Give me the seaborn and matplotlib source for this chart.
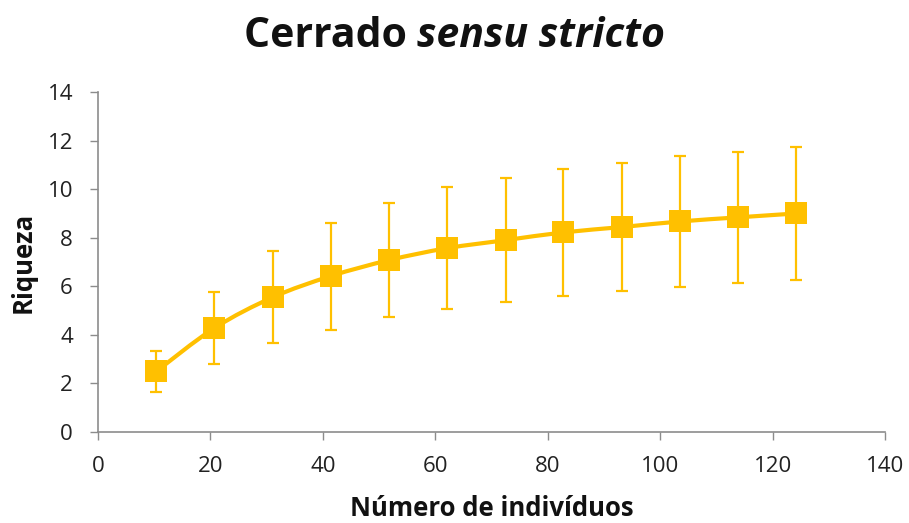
import numpy as np
import matplotlib
matplotlib.use("Agg")
import matplotlib.pyplot as plt
from matplotlib.path import Path
from matplotlib.patches import PathPatch
import seaborn as sns

# Rarefaction curve: expected richness by number of individuals
individuos = [10.4, 20.7, 31.1, 41.4, 51.8, 62.1, 72.5, 82.8, 93.2, 103.5, 113.9, 124.2]
riqueza = [2.5, 4.28, 5.55, 6.42, 7.08, 7.57, 7.9, 8.22, 8.44, 8.67, 8.84, 9.0]
desvio = [0.85, 1.5, 1.9, 2.2, 2.36, 2.5, 2.55, 2.6, 2.62, 2.7, 2.7, 2.74]
x_ticks = [0, 20, 40, 60, 80, 100, 120, 140]
y_ticks = [0, 2, 4, 6, 8, 10, 12, 14]

COR = "#FFC000"
EIXO = "#8c8c8c"

sns.set_theme(style="white")
plt.rcParams["font.family"] = ["Open Sans", "DejaVu Sans"]

fig = plt.figure(figsize=(9.09, 5.23), dpi=100)
ax = fig.add_axes([0.1078, 0.174, 0.8658, 0.650])

# error bars
ax.errorbar(individuos, riqueza, yerr=desvio, fmt="none", ecolor=COR,
            elinewidth=1.6, capsize=4, capthick=1.6, zorder=2)

# smoothed connecting line (Catmull-Rom as cubic Bezier segments)
xs = np.asarray(individuos, float)
ys = np.asarray(riqueza, float)
verts = [(xs[0], ys[0])]
codes = [Path.MOVETO]
n = len(xs)
for i in range(n - 1):
    p0 = np.array([xs[max(i - 1, 0)], ys[max(i - 1, 0)]])
    p1 = np.array([xs[i], ys[i]])
    p2 = np.array([xs[i + 1], ys[i + 1]])
    p3 = np.array([xs[min(i + 2, n - 1)], ys[min(i + 2, n - 1)]])
    c1 = p1 + (p2 - p0) / 6.0
    c2 = p2 - (p3 - p1) / 6.0
    verts += [tuple(c1), tuple(c2), tuple(p2)]
    codes += [Path.CURVE4] * 3
ax.add_patch(PathPatch(Path(verts, codes), facecolor="none", edgecolor=COR,
                       linewidth=3, zorder=3))

sns.scatterplot(x=individuos, y=riqueza, marker="s", s=250, color=COR,
                edgecolor=COR, linewidth=0, ax=ax, zorder=4)

ax.set_xlim(0, 140)
ax.set_ylim(0, 14)
ax.set_xticks(x_ticks)
ax.set_yticks(y_ticks)
ax.tick_params(axis="both", which="major", direction="out", length=6, width=1,
               color=EIXO, labelsize=16, labelcolor="#222222", bottom=True, left=True)
ax.tick_params(axis="x", pad=11)
ax.tick_params(axis="y", pad=12)
for side in ("top", "right"):
    ax.spines[side].set_visible(False)
for side in ("left", "bottom"):
    ax.spines[side].set_color(EIXO)
    ax.spines[side].set_linewidth(1.2)

ax.set_xlabel("Número de indivíduos", fontsize=18.5, fontweight="bold", color="#111111", labelpad=13)
ax.set_ylabel("Riqueza", fontsize=18.5, fontweight="bold", color="#111111", labelpad=8)

# title: bold upright part followed by bold italic part, centred as one line
title_y = 1 - 47 / 523
t1 = fig.text(0, title_y, "Cerrado ", ha="left", va="baseline",
              fontsize=29.5, fontweight="bold", color="#111111")
t2 = fig.text(0, title_y, "sensu stricto", ha="left", va="baseline",
              fontsize=29.5, fontweight="bold", fontstyle="italic", color="#111111")
renderer = fig.canvas.get_renderer()
w1 = t1.get_window_extent(renderer).width / fig.bbox.width
w2 = t2.get_window_extent(renderer).width / fig.bbox.width
x0 = 0.5 - (w1 + w2) / 2
t1.set_x(x0)
t2.set_x(x0 + w1)

fig.savefig("out.png", dpi=100, facecolor="white")
